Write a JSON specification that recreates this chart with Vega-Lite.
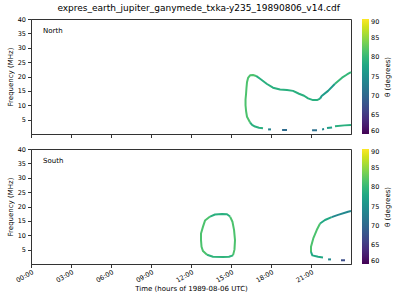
{
  "$schema": "https://vega.github.io/schema/vega-lite/v6.json",
  "title": {"text": "expres_earth_jupiter_ganymede_txka-y235_19890806_v14.cdf", "fontSize": 9, "fontWeight": "normal", "color": "#000", "anchor": "middle", "offset": 3},
  "padding": {"left": 5, "top": 3, "right": 2, "bottom": 2},
  "datasets": {
    "north": [
      {"seg": "n1", "hour": 16.43, "freq": 4.0, "theta": 81.5},
      {"seg": "n1", "hour": 16.2, "freq": 6, "theta": 81.5},
      {"seg": "n1", "hour": 16.13, "freq": 8, "theta": 81.5},
      {"seg": "n1", "hour": 16.09, "freq": 10, "theta": 81.5},
      {"seg": "n1", "hour": 16.09, "freq": 12, "theta": 81.5},
      {"seg": "n1", "hour": 16.13, "freq": 14, "theta": 81.5},
      {"seg": "n1", "hour": 16.16, "freq": 16, "theta": 81.5},
      {"seg": "n1", "hour": 16.2, "freq": 18, "theta": 81.5},
      {"seg": "n1", "hour": 16.28, "freq": 19.5, "theta": 81.5},
      {"seg": "n1", "hour": 16.43, "freq": 20.4, "theta": 81.5},
      {"seg": "n1", "hour": 16.65, "freq": 20.5, "theta": 81.5},
      {"seg": "n1", "hour": 16.88, "freq": 20.2, "theta": 81.5},
      {"seg": "n2", "hour": 16.88, "freq": 20.2, "theta": 79},
      {"seg": "n2", "hour": 17.18, "freq": 19.2, "theta": 79},
      {"seg": "n2", "hour": 17.7, "freq": 17.4, "theta": 79},
      {"seg": "n2", "hour": 18.15, "freq": 16.1, "theta": 79},
      {"seg": "n2", "hour": 18.68, "freq": 15.5, "theta": 79},
      {"seg": "n2", "hour": 19.2, "freq": 15.3, "theta": 79},
      {"seg": "n2", "hour": 19.65, "freq": 15.0, "theta": 79},
      {"seg": "n2", "hour": 20.1, "freq": 14.0, "theta": 79},
      {"seg": "n2", "hour": 20.48, "freq": 13.3, "theta": 79},
      {"seg": "n2", "hour": 20.78, "freq": 12.4, "theta": 79},
      {"seg": "n2", "hour": 21.15, "freq": 11.8, "theta": 79},
      {"seg": "n2", "hour": 21.45, "freq": 11.8, "theta": 79},
      {"seg": "n2", "hour": 21.68, "freq": 12.3, "theta": 79},
      {"seg": "n3", "hour": 21.68, "freq": 12.3, "theta": 76.5},
      {"seg": "n3", "hour": 21.8, "freq": 13.2, "theta": 76.5},
      {"seg": "n3", "hour": 22.28, "freq": 15, "theta": 76.5},
      {"seg": "n3", "hour": 22.8, "freq": 17.5, "theta": 76.5},
      {"seg": "n4", "hour": 22.8, "freq": 17.5, "theta": 80},
      {"seg": "n4", "hour": 23.33, "freq": 19.6, "theta": 80},
      {"seg": "n4", "hour": 23.7, "freq": 20.7, "theta": 80},
      {"seg": "n4", "hour": 24.0, "freq": 21.5, "theta": 80},
      {"seg": "n5", "hour": 16.43, "freq": 4.0, "theta": 79},
      {"seg": "n5", "hour": 16.58, "freq": 3.2, "theta": 79},
      {"seg": "n5", "hour": 16.8, "freq": 2.6, "theta": 79},
      {"seg": "n5", "hour": 17.1, "freq": 2.2, "theta": 79},
      {"seg": "n5", "hour": 17.4, "freq": 2.0, "theta": 79},
      {"seg": "n6", "hour": 17.78, "freq": 1.6, "theta": 73},
      {"seg": "n6", "hour": 18.0, "freq": 1.6, "theta": 73},
      {"seg": "n7", "hour": 18.83, "freq": 1.4, "theta": 70.5},
      {"seg": "n7", "hour": 19.2, "freq": 1.4, "theta": 70.5},
      {"seg": "n8", "hour": 21.08, "freq": 1.3, "theta": 71},
      {"seg": "n8", "hour": 21.45, "freq": 1.3, "theta": 71},
      {"seg": "n9", "hour": 21.83, "freq": 1.6, "theta": 74},
      {"seg": "n9", "hour": 21.98, "freq": 1.7, "theta": 74},
      {"seg": "n10", "hour": 22.2, "freq": 2.1, "theta": 77},
      {"seg": "n10", "hour": 22.58, "freq": 2.3, "theta": 77},
      {"seg": "n11", "hour": 22.8, "freq": 2.7, "theta": 79},
      {"seg": "n11", "hour": 23.5, "freq": 3.0, "theta": 79},
      {"seg": "n11", "hour": 24.0, "freq": 3.1, "theta": 79}
    ],
    "south": [
      {"seg": "s1", "hour": 13.43, "freq": 16.5, "theta": 79},
      {"seg": "s1", "hour": 13.8, "freq": 17.2, "theta": 79},
      {"seg": "s1", "hour": 14.33, "freq": 17.4, "theta": 79},
      {"seg": "s1", "hour": 14.7, "freq": 17.3, "theta": 79},
      {"seg": "s1", "hour": 14.93, "freq": 16.5, "theta": 79},
      {"seg": "s2", "hour": 14.93, "freq": 16.5, "theta": 81.5},
      {"seg": "s2", "hour": 15.11, "freq": 14.7, "theta": 81.5},
      {"seg": "s2", "hour": 15.23, "freq": 11.8, "theta": 81.5},
      {"seg": "s2", "hour": 15.3, "freq": 8.3, "theta": 81.5},
      {"seg": "s2", "hour": 15.26, "freq": 5, "theta": 81.5},
      {"seg": "s2", "hour": 15.15, "freq": 3.0, "theta": 81.5},
      {"seg": "s3", "hour": 15.15, "freq": 3.0, "theta": 79.5},
      {"seg": "s3", "hour": 14.85, "freq": 2.5, "theta": 79.5},
      {"seg": "s3", "hour": 14.4, "freq": 2.4, "theta": 79.5},
      {"seg": "s3", "hour": 13.65, "freq": 2.5, "theta": 79.5},
      {"seg": "s3", "hour": 13.2, "freq": 3.2, "theta": 79.5},
      {"seg": "s4", "hour": 13.2, "freq": 3.2, "theta": 81.5},
      {"seg": "s4", "hour": 12.9, "freq": 4.5, "theta": 81.5},
      {"seg": "s4", "hour": 12.79, "freq": 6, "theta": 81.5},
      {"seg": "s4", "hour": 12.75, "freq": 8.3, "theta": 81.5},
      {"seg": "s4", "hour": 12.75, "freq": 10.6, "theta": 81.5},
      {"seg": "s4", "hour": 12.9, "freq": 13, "theta": 81.5},
      {"seg": "s4", "hour": 13.05, "freq": 15.1, "theta": 81.5},
      {"seg": "s4", "hour": 13.43, "freq": 16.5, "theta": 81.5},
      {"seg": "s5", "hour": 21.0, "freq": 4.2, "theta": 81.5},
      {"seg": "s5", "hour": 21.0, "freq": 6, "theta": 81.5},
      {"seg": "s5", "hour": 21.17, "freq": 8.9, "theta": 81.5},
      {"seg": "s5", "hour": 21.43, "freq": 11.8, "theta": 81.5},
      {"seg": "s5", "hour": 21.68, "freq": 14.1, "theta": 81.5},
      {"seg": "s6", "hour": 21.68, "freq": 14.1, "theta": 78},
      {"seg": "s6", "hour": 22.05, "freq": 15.3, "theta": 78},
      {"seg": "s6", "hour": 22.55, "freq": 16.3, "theta": 78},
      {"seg": "s7", "hour": 22.55, "freq": 16.3, "theta": 74},
      {"seg": "s7", "hour": 23.03, "freq": 17.1, "theta": 74},
      {"seg": "s7", "hour": 23.78, "freq": 18.2, "theta": 74},
      {"seg": "s7", "hour": 24.0, "freq": 18.4, "theta": 74},
      {"seg": "s8", "hour": 21.0, "freq": 4.2, "theta": 78},
      {"seg": "s8", "hour": 21.1, "freq": 3.0, "theta": 78},
      {"seg": "s8", "hour": 21.53, "freq": 2.5, "theta": 78},
      {"seg": "s8", "hour": 21.9, "freq": 2.3, "theta": 78},
      {"seg": "s9", "hour": 22.28, "freq": 1.6, "theta": 74},
      {"seg": "s9", "hour": 22.5, "freq": 1.6, "theta": 74},
      {"seg": "s10", "hour": 23.25, "freq": 1.3, "theta": 67},
      {"seg": "s10", "hour": 23.55, "freq": 1.3, "theta": 67}
    ],
    "labels": [
      {"panel": "North", "hour": 0.9, "freq": 36},
      {"panel": "South", "hour": 0.9, "freq": 36}
    ]
  },
  "vconcat": [
    {
      "width": 320,
      "height": 115,
      "encoding": {
        "x": {"field": "hour", "type": "quantitative", "scale": {"domain": [0, 24], "nice": false}, "axis": {"values": [0, 3, 6, 9, 12, 15, 18, 21], "labels": false, "title": null}},
        "y": {"field": "freq", "type": "quantitative", "scale": {"domain": [0, 40], "nice": false}, "axis": {"values": [5, 10, 15, 20, 25, 30, 35, 40], "labelOverlap": false, "title": "Frequency (MHz)"}}
      },
      "layer": [
        {
          "data": {"name": "north"},
          "mark": {"type": "line", "strokeWidth": 2, "strokeJoin": "round"},
          "encoding": {
            "color": {"field": "theta", "type": "quantitative", "scale": {"scheme": "viridis", "domain": [60, 90]}, "legend": {"title": "θ (degrees)", "titleOrient": "right", "gradientLength": 115, "gradientThickness": 7, "values": [60, 65, 70, 75, 80, 85, 90], "direction": "vertical", "offset": 10, "encode": {"title": {"update": {"angle": {"value": -90}, "baseline": {"value": "top"}}}}}},
            "detail": {"field": "seg"},
            "order": {"value": null}
          }
        },
        {
          "data": {"name": "labels"},
          "transform": [{"filter": "datum.panel === 'North'"}],
          "mark": {"type": "text", "align": "left", "baseline": "middle", "fontSize": 7, "color": "#000"},
          "encoding": {
            "text": {"field": "panel"}
          }
        }
      ]
    },
    {
      "width": 320,
      "height": 115,
      "encoding": {
        "x": {"field": "hour", "type": "quantitative", "scale": {"domain": [0, 24], "nice": false}, "axis": {"values": [0, 3, 6, 9, 12, 15, 18, 21], "labelAngle": -30, "labelAlign": "right", "labelBaseline": "top", "labelPadding": 1, "titlePadding": 1, "labelExpr": "(datum.value < 10 ? '0' : '') + datum.value + ':00'", "title": "Time (hours of 1989-08-06 UTC)"}},
        "y": {"field": "freq", "type": "quantitative", "scale": {"domain": [0, 40], "nice": false}, "axis": {"values": [5, 10, 15, 20, 25, 30, 35, 40], "labelOverlap": false, "title": "Frequency (MHz)"}}
      },
      "layer": [
        {
          "data": {"name": "south"},
          "mark": {"type": "line", "strokeWidth": 2, "strokeJoin": "round"},
          "encoding": {
            "color": {"field": "theta", "type": "quantitative", "scale": {"scheme": "viridis", "domain": [60, 90]}, "legend": {"title": "θ (degrees)", "titleOrient": "right", "gradientLength": 115, "gradientThickness": 7, "values": [60, 65, 70, 75, 80, 85, 90], "direction": "vertical", "offset": 10, "encode": {"title": {"update": {"angle": {"value": -90}, "baseline": {"value": "top"}}}}}},
            "detail": {"field": "seg"},
            "order": {"value": null}
          }
        },
        {
          "data": {"name": "labels"},
          "transform": [{"filter": "datum.panel === 'South'"}],
          "mark": {"type": "text", "align": "left", "baseline": "middle", "fontSize": 7, "color": "#000"},
          "encoding": {
            "text": {"field": "panel"}
          }
        }
      ]
    }
  ],
  "spacing": 15,
  "bounds": "flush",
  "resolve": {"scale": {"color": "independent"}, "legend": {"color": "independent"}},
  "config": {
    "font": "DejaVu Sans",
    "view": {"stroke": "#333", "strokeWidth": 1},
    "axis": {"grid": false, "domainColor": "#333", "tickColor": "#333", "tickSize": 3.5, "labelFontSize": 6.5, "titleFontSize": 7, "titleFontWeight": "normal", "labelColor": "#000", "titleColor": "#000", "labelPadding": 2, "titlePadding": 4},
    "legend": {"labelFontSize": 6.5, "titleFontSize": 7, "titleFontWeight": "normal", "labelColor": "#000", "titleColor": "#000"}
  }
}
